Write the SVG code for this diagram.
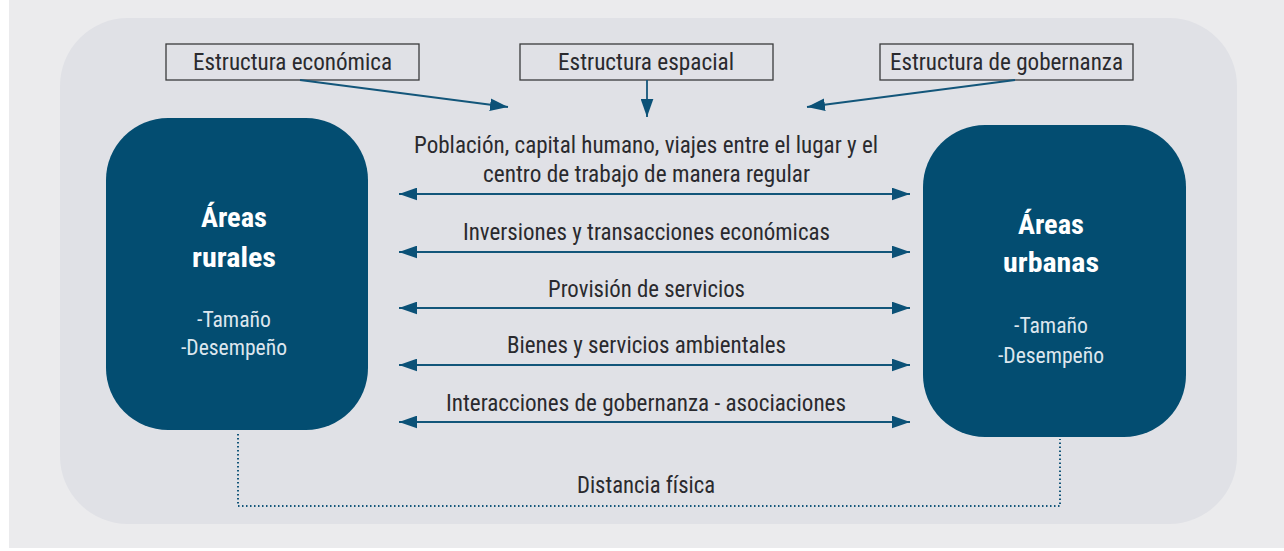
<svg xmlns="http://www.w3.org/2000/svg" width="1284" height="551" viewBox="0 0 1284 551">
<style>
.t{font-family:"Roboto Condensed","Liberation Sans Narrow",Roboto,"Liberation Sans",sans-serif;font-size:23.5px;fill:#2a2a2e;text-anchor:middle}
.h{font-family:"Roboto Condensed","Liberation Sans Narrow",Roboto,"Liberation Sans",sans-serif;font-size:28px;font-weight:bold;fill:#ffffff;text-anchor:middle}
.s{font-family:"Roboto Condensed","Liberation Sans Narrow",Roboto,"Liberation Sans",sans-serif;font-size:22.5px;fill:#dde6ee;text-anchor:middle}
.box{fill:none;stroke:#3a3a3c;stroke-width:1.3}
.node{fill:#034d71}
.c{stroke:#13567a;stroke-width:1.8;fill:none}
.d{stroke:#13567a;stroke-width:2;fill:none;stroke-dasharray:1.5 2.5}
</style>
<defs>
<marker id="ah" markerUnits="userSpaceOnUse" markerWidth="18" markerHeight="13" viewBox="0 0 17 12" refX="17" refY="6" orient="auto-start-reverse">
<path d="M0,0 L17,6 L0,12 z" fill="#0b5177"/>
</marker>
</defs>
<rect x="0" y="0" width="1284" height="551" fill="#ffffff"/>
<rect x="9" y="0" width="1275" height="548" fill="#ebebed"/>
<rect x="60" y="18" width="1177" height="506" rx="68" ry="68" fill="#e0e1e6"/>

<g id="estructura-economica">
<rect class="box" x="166" y="44" width="253" height="36"/>
<text class="t" x="292.5" y="70" textLength="199" lengthAdjust="spacingAndGlyphs">Estructura económica</text>
</g>
<g id="estructura-espacial">
<rect class="box" x="520" y="44" width="253" height="36"/>
<text class="t" x="646" y="70" textLength="176" lengthAdjust="spacingAndGlyphs">Estructura espacial</text>
</g>
<g id="estructura-gobernanza">
<rect class="box" x="880" y="44" width="253" height="36"/>
<text class="t" x="1006.5" y="70" textLength="233" lengthAdjust="spacingAndGlyphs">Estructura de gobernanza</text>
</g>

<g id="areas-rurales">
<rect class="node" x="106" y="118" width="262" height="312" rx="62" ry="62"/>
<text class="h" x="234" y="227" textLength="66" lengthAdjust="spacingAndGlyphs">Áreas</text>
<text class="h" x="234" y="267" textLength="84" lengthAdjust="spacingAndGlyphs">rurales</text>
<text class="s" x="234" y="327" textLength="74" lengthAdjust="spacingAndGlyphs">-Tamaño</text>
<text class="s" x="234" y="355" textLength="106" lengthAdjust="spacingAndGlyphs">-Desempeño</text>
</g>
<g id="areas-urbanas">
<rect class="node" x="923" y="125" width="263" height="312" rx="62" ry="62"/>
<text class="h" x="1051" y="234" textLength="66" lengthAdjust="spacingAndGlyphs">Áreas</text>
<text class="h" x="1051" y="272" textLength="96" lengthAdjust="spacingAndGlyphs">urbanas</text>
<text class="s" x="1051" y="333" textLength="74" lengthAdjust="spacingAndGlyphs">-Tamaño</text>
<text class="s" x="1051" y="363" textLength="106" lengthAdjust="spacingAndGlyphs">-Desempeño</text>
</g>

<g id="connectors">
<line class="c" x1="300" y1="80" x2="508" y2="107" marker-end="url(#ah)"/>
<line class="c" x1="647" y1="80" x2="647" y2="117" marker-end="url(#ah)"/>
<line class="c" x1="1015" y1="80" x2="807" y2="107" marker-end="url(#ah)"/>
<line class="c" x1="399" y1="194" x2="910" y2="194" marker-start="url(#ah)" marker-end="url(#ah)"/>
<line class="c" x1="399" y1="252" x2="910" y2="252" marker-start="url(#ah)" marker-end="url(#ah)"/>
<line class="c" x1="399" y1="308" x2="910" y2="308" marker-start="url(#ah)" marker-end="url(#ah)"/>
<line class="c" x1="399" y1="365" x2="910" y2="365" marker-start="url(#ah)" marker-end="url(#ah)"/>
<line class="c" x1="399" y1="422" x2="910" y2="422" marker-start="url(#ah)" marker-end="url(#ah)"/>
<polyline class="d" points="238,434 238,506 1060,506 1060,439"/>
</g>

<g id="labels">
<text class="t" x="646" y="153" textLength="464" lengthAdjust="spacingAndGlyphs">Población, capital humano, viajes entre el lugar y el</text>
<text class="t" x="646.5" y="182" textLength="327" lengthAdjust="spacingAndGlyphs">centro de trabajo de manera regular</text>
<text class="t" x="646.5" y="240" textLength="367" lengthAdjust="spacingAndGlyphs">Inversiones y transacciones económicas</text>
<text class="t" x="646.5" y="297" textLength="197" lengthAdjust="spacingAndGlyphs">Provisión de servicios</text>
<text class="t" x="646.5" y="353" textLength="279" lengthAdjust="spacingAndGlyphs">Bienes y servicios ambientales</text>
<text class="t" x="646" y="411" textLength="400" lengthAdjust="spacingAndGlyphs">Interacciones de gobernanza - asociaciones</text>
<text class="t" x="646" y="493" textLength="138" lengthAdjust="spacingAndGlyphs">Distancia física</text>
</g>
</svg>
